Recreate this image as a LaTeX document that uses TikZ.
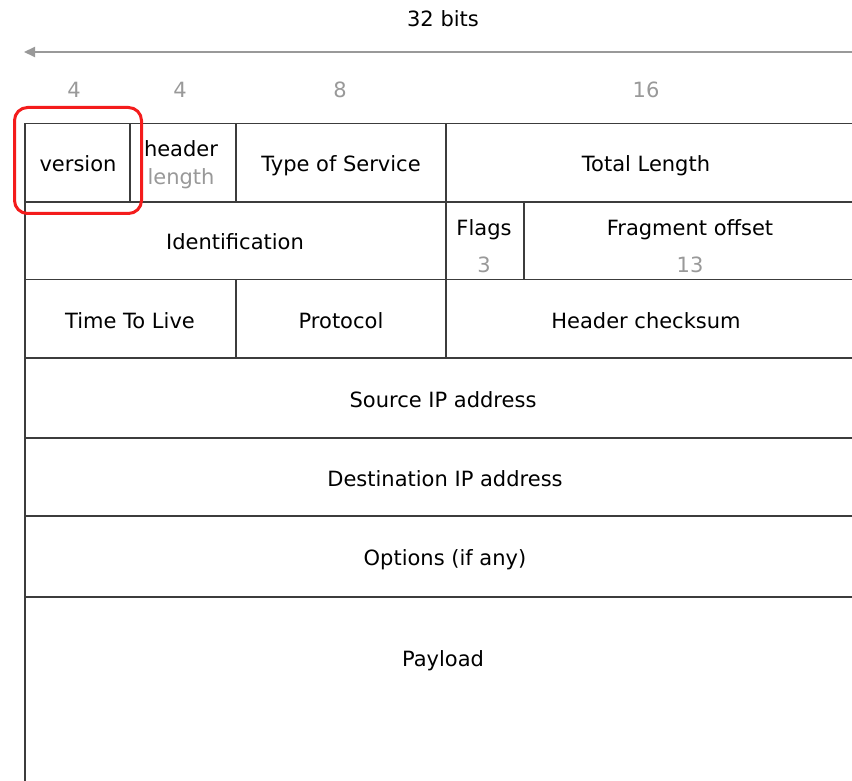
\documentclass[tikz,border=0pt]{standalone}
\usepackage{fontspec}
\setmainfont{DejaVu Sans}
\usetikzlibrary{arrows.meta}

\definecolor{gridline}{HTML}{3C3C3C}
\definecolor{soft}{HTML}{999999}
\definecolor{mark}{HTML}{F41C1C}

\tikzset{
  field/.style={inner sep=0pt, anchor=base, text=black, font=\fontsize{21}{25}\selectfont},
  bitcount/.style={field, text=soft},
  grid/.style={draw=gridline, line width=1.7pt},
  scale arrow/.style={draw=soft, line width=2pt, -{Triangle[length=11pt,width=10pt]}},
  highlight/.style={draw=mark, line width=3pt, rounded corners=13pt,
                    minimum width=127pt, minimum height=106pt, inner sep=0pt}
}

\begin{document}
\begin{tikzpicture}[x=1pt, y=-1pt]
  % canvas; the header runs on past the right and bottom edges
  \clip (0,0) rectangle (852,781);
  \fill[white] (0,0) rectangle (852,781);

  % width scale
  \node[field] (width) at (443,26.7) {32 bits};
  \coordinate (scaleR) at (880,52);
  \coordinate (scaleL) at (24,52);
  \draw[scale arrow] (scaleR) -- (scaleL);

  \node[bitcount] (bVer) at (74,97.5)  {4};
  \node[bitcount] (bHl)  at (180,97.5) {4};
  \node[bitcount] (bTos) at (340,97.5) {8};
  \node[bitcount] (bLen) at (646,97.5) {16};

  % row boundaries
  \foreach \y in {123.5,201.7,279.5,358,437.7,515.7,596.7}
    \draw[grid] (24.7,\y) -- (880,\y);
  % left edge
  \draw[grid] (24.7,123.5) -- (24.7,800);
  % column boundaries
  \draw[grid] (130,123.5) -- (130,201.7);
  \draw[grid] (236,123.5) -- (236,201.7);
  \draw[grid] (446,123.5) -- (446,358);
  \draw[grid] (524,201.7) -- (524,279.5);
  \draw[grid] (236,279.5) -- (236,358);

  % row 1
  \node[field] (ver) at (78,171.5) {version};
  \node[field] (hl1) at (181,156.5) {header};
  \node[bitcount] (hl2) at (181,185) {length};
  \node[field] (tos) at (341,171.5) {Type of Service};
  \node[field] (len) at (646,171.5) {Total Length};

  % row 2
  \node[field] (ident) at (235,249.5) {Identification};
  \node[field] (flags) at (484,235) {Flags};
  \node[bitcount] (flagsN) at (484,272.5) {3};
  \node[field] (frag) at (690,235) {Fragment offset};
  \node[bitcount] (fragN) at (690,272.5) {13};

  % row 3
  \node[field] (ttl) at (130,328.3) {Time To Live};
  \node[field] (proto) at (341,328.3) {Protocol};
  \node[field] (csum) at (646,328.3) {Header checksum};

  % address, options and payload rows
  \node[field] (src) at (443,407.5) {Source IP address};
  \node[field] (dst) at (445,486.7) {Destination IP address};
  \node[field] (opt) at (445,565) {Options (if any)};
  \node[field] (pay) at (443,666) {Payload};

  % emphasis on the version field
  \node[highlight] (verMark) at (78,160.5) {};
\end{tikzpicture}
\end{document}
